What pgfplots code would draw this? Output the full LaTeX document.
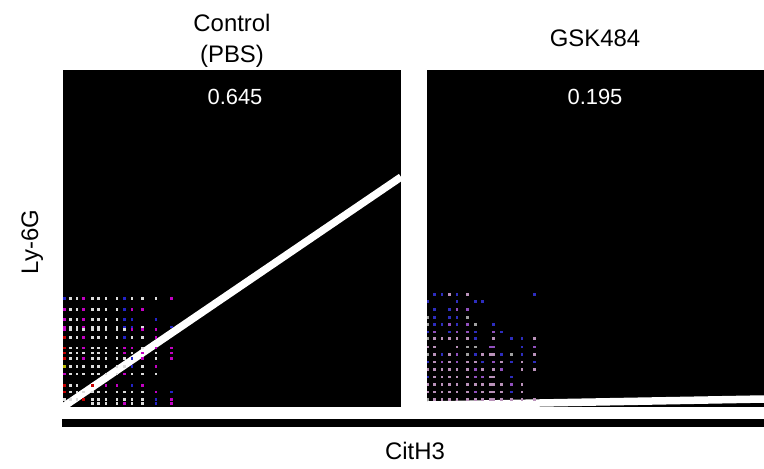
\documentclass[border=0pt]{standalone}
\usepackage{pgfplots}
\pgfplotsset{compat=1.18}
\usepackage{fontspec}
\setmainfont{Liberation Sans}
\definecolor{lw}{RGB}{220,220,220}
\definecolor{lm}{RGB}{195,0,195}
\definecolor{lb}{RGB}{35,35,200}
\definecolor{lr}{RGB}{200,0,0}
\definecolor{ly}{RGB}{190,190,0}
\definecolor{rg}{RGB}{160,160,160}
\definecolor{rb}{RGB}{45,45,190}
\definecolor{rp}{RGB}{145,80,190}
\definecolor{rk}{RGB}{185,145,185}
\begin{document}
\begin{tikzpicture}[x=1bp,y=1bp]
\useasboundingbox (0,0) rectangle (764,-469);
\pgfplotsset{panel/.style={scale only axis, anchor=south west, height=337bp,
  ymin=0, ymax=337, axis line style={draw=none}, ticks=none,
  axis background/.style={fill=black}},
  dot/.style={only marks, mark=square*, mark size=0.85bp, mark options={draw=none}}}
% left panel
\begin{axis}[panel, at={(63bp,-407bp)}, width=338bp, xmin=0, xmax=338]
\addplot[dot, color=lw] coordinates {
(7,108.7)(13.7,108.7)(29.3,108.7)(35.3,108.7)(42.7,108.7)(53.7,108.7)(68.7,108.7)(79.3,108.7)(92.7,108.7)
(7,98)(13.7,98)(29.3,98)(35.3,98)(42.7,98)(53.7,98)
(7,87.7)(13.7,87.7)(29.3,87.7)(35.3,87.7)(42.7,87.7)(53.7,87.7)
(7,80.3)(13.7,80.3)(29.3,80.3)(35.3,80.3)(42.7,80.3)(53.7,80.3)(79.3,80.3)
(7,77.7)(13.7,77.7)(20.3,77.7)(29.3,77.7)(35.3,77.7)(42.7,77.7)(53.7,77.7)(61,77.7)
(7,69.7)(13.7,69.7)(29.3,69.7)(35.3,69.7)(42.7,69.7)(53.7,69.7)(68.7,69.7)(79.3,69.7)
(7,59.3)(13.7,59.3)(29.3,59.3)(35.3,59.3)(42.7,59.3)(53.7,59.3)(79.3,59.3)
(7,54.3)(13.7,54.3)(20.3,54.3)(29.3,54.3)(35.3,54.3)(42.7,54.3)(53.7,54.3)(68.7,54.3)(92.7,54.3)
(7,48.7)(13.7,48.7)(29.3,48.7)(35.3,48.7)(42.7,48.7)(53.7,48.7)(61,48.7)(92.7,48.7)
(7,41)(13.7,41)(20.3,41)(29.3,41)(35.3,41)(42.7,41)(53.7,41)(61,41)(79.3,41)
(7,33.3)(13.7,33.3)(20.3,33.3)(29.3,33.3)(35.3,33.3)(42.7,33.3)(53.7,33.3)(68.7,33.3)(79.3,33.3)(92.7,33.3)
(7,22)(13.7,22)
(7,15.3)(13.7,15.3)(20.3,15.3)(29.3,15.3)(35.3,15.3)(42.7,15.3)(53.7,15.3)(61,15.3)(68.7,15.3)(79.3,15.3)
(1,7.7)(7,7.7)(13.7,7.7)(29.3,7.7)(35.3,7.7)(42.7,7.7)(53.7,7.7)(61,7.7)(68.7,7.7)(79.3,7.7)
(29.3,4)(35.3,4)(42.7,4)(53.7,4)(68.7,4)(79.3,4)
};
\addplot[dot, color=lm] coordinates {
(20.3,108.7)(108,108.7)
(1,98)(20.3,98)(68.7,98)(79.3,98)
(1,87.7)(20.3,87.7)
(1,80.3)(20.3,80.3)
(1,77.7)(68.7,77.7)(79.3,77.7)(92.7,77.7)
(20.3,69.7)(92.7,69.7)
(20.3,59.3)(61,59.3)(68.7,59.3)(92.7,59.3)(108,59.3)
(61,54.3)(79.3,54.3)(108,54.3)
(20.3,48.7)(79.3,48.7)(108,48.7)
(92.7,41)
(1,33.3)(61,33.3)
(42.7,22)(53.7,22)(79.3,22)
(92.7,15.3)
(108,7.7)
(61,4)(108,4)
};
\addplot[dot, color=lb] coordinates {
(1,108.7)(61,108.7)(61,98)(61,87.7)(68.7,87.7)(92.7,87.7)
(61,80.3)(68.7,80.3)(108,80.3)(61,69.7)(68.7,48.7)(68.7,41)
(68.7,22)(108,15.3)(92.7,7.7)(92.7,4)
};
\addplot[dot, color=lr] coordinates {
(1,69.7)(1,59.3)(1,54.3)(1,48.7)(1,22)(29.3,22)(1,15.3)(20.3,7.7)
};
\addplot[dot, color=ly] coordinates {(1,41)};
\addplot[white, line width=7.5bp] coordinates {(0,0) (338,230)};
\end{axis}
% right panel
\begin{axis}[panel, at={(427bp,-407bp)}, width=337bp, xmin=0, xmax=337]
\addplot[dot, color=rg] coordinates {
(0.7,89.7)(40.3,89.7)(0.7,82.7)(48,82.7)(0.7,68.7)(40.3,60.3)(48,60.3)
(0.7,53)(40.3,53)(84,53)(0.7,8)
};
\addplot[dot, color=rb] coordinates {
(7.3,112.7)(14.7,112.7)(29.7,112.7)(107,112.7)
(0.7,106)(29.7,106)(48,106)(55.3,106)
(7.3,98)(22,98)
(7.3,89.7)(22,89.7)(29.7,89.7)
(7.3,82.7)(14.7,82.7)(29.7,82.7)(66.3,82.7)
(0.7,75.3)(22,75.3)(48,75.3)(74,75.3)
(48,68.7)(84,68.7)(94.7,68.7)
(94.7,60.3)
(14.7,53)(48,53)(74,53)(94.7,53)
(0.7,45.3)(55.3,45.3)(84,45.3)(107,45.3)
(0.7,30.3)(84,30.3)
(84,15.3)
};
\addplot[dot, color=rp] coordinates {
(29.7,98)(40.3,98)
(22,82.7)(40.3,82.7)
(7.3,75.3)(29.7,75.3)(40.3,75.3)(66.3,75.3)
(63,60.3)(66.3,60.3)(107,60.3)
(29.7,53)
(14.7,45.3)(29.7,45.3)(66.3,45.3)
(48,38)(74,38)
(48,30.3)(55.3,30.3)
(84,23)
(48,15.3)
};
\addplot[dot, color=rk] coordinates {
(22,112.7)(40.3,112.7)
(7.3,68.7)(14.7,68.7)(22,68.7)(29.7,68.7)(40.3,68.7)(66.3,68.7)(107,68.7)
(0.7,60.3)(7.3,60.3)(29.7,60.3)
(7.3,53)(22,53)(55.3,53)(63,53)(66.3,53)(107,53)
(7.3,45.3)(22,45.3)(40.3,45.3)(48,45.3)(74,45.3)(94.7,45.3)
(0.7,38)(7.3,38)(14.7,38)(22,38)(29.7,38)(40.3,38)(55.3,38)(66.3,38)(94.7,38)(107,38)
(7.3,30.3)(14.7,30.3)(22,30.3)(29.7,30.3)(40.3,30.3)(63,30.3)(66.3,30.3)
(0.7,23)(7.3,23)(14.7,23)(22,23)(29.7,23)(40.3,23)(48,23)(55.3,23)(63,23)(66.3,23)(74,23)(94.7,23)
(0.7,15.3)(7.3,15.3)(14.7,15.3)(22,15.3)(29.7,15.3)(40.3,15.3)(55.3,15.3)(63,15.3)(66.3,15.3)(74,15.3)(94.7,15.3)
(7.3,8)(14.7,8)(22,8)(29.7,8)(40.3,8)(48,8)(55.3,8)(63,8)(66.3,8)(74,8)(84,8)(94.7,8)(107,8)
};
\addplot[white, line width=7.5bp] coordinates {(0,2) (337,8)};
\end{axis}
% decorations and text
\fill[black] (62,-419) rectangle (764,-427);
\begin{scope}[every node/.style={inner sep=0pt, font=\fontsize{24}{29}\selectfont}]
\node[anchor=base] at (232,-32) {Control};
\node[anchor=base] at (232,-63) {(PBS)};
\node[anchor=base] at (595,-47) {GSK484};
\node[anchor=base] at (415,-459) {CitH3};
\node[anchor=base, rotate=90] at (38,-242) {Ly-6G};
\node[anchor=base, white, font=\fontsize{22}{26}\selectfont] at (235,-105) {0.645};
\node[anchor=base, white, font=\fontsize{22}{26}\selectfont] at (595,-105) {0.195};
\end{scope}
\end{tikzpicture}
\end{document}
